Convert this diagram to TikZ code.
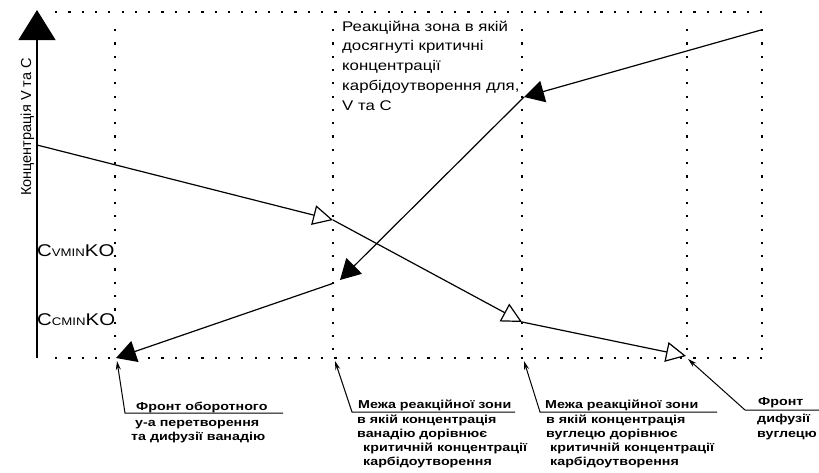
\documentclass[tikz,border=0pt]{standalone}
\usepackage{fontspec}
\setmainfont{Liberation Sans}
\newfontfamily\boxfont{Liberation Sans}[FakeStretch=1.2,WordSpace=1.5]
\newfontfamily\cfont{Liberation Sans}[FakeStretch=1.2]
\newfontfamily\lblfont{Liberation Sans}[FakeStretch=1.24,UprightFont=* Bold]
\usetikzlibrary{arrows.meta}
\begin{document}
\begin{tikzpicture}[x=1pt,y=-1pt,
  dotline/.style={line width=2.2pt,dash pattern=on 2.2pt off 11.1pt},
  prof/.style={line width=1.2pt},
  vtip/.style={-{Triangle[fill=white,length=20pt,width=20pt]}},
  ctip/.style={-{Triangle[length=20pt,width=22pt]}},
  callout/.style={line width=1pt,{Stealth[length=9pt,width=5pt]}-},
  zonetext/.style={font=\boxfont\fontsize{14}{16}\selectfont,anchor=base west,inner sep=0pt},
  lbl/.style={font=\lblfont\fontsize{11.5}{13}\selectfont,anchor=base west,inner sep=0pt},
  clbl/.style={font=\cfont\fontsize{17}{19}\selectfont,anchor=base west,inner sep=0pt},
]
\fill[white] (0,0) rectangle (819,472);
\useasboundingbox (0,0) rectangle (819,472);

% dotted grid
\draw[dotline] (55,12) -- (764,12);
\draw[dotline] (55,358) -- (764,358);
\foreach \gx in {115,333,522,687,762}
  \draw[dotline] (\gx,29) -- (\gx,358);

% concentration axis
\coordinate (o) at (37,358);
\coordinate (ytop) at (37,10);
\draw[line width=1.2pt,-{Triangle[length=30pt,width=37pt]}] (o) -- (ytop);
\node[font=\fontsize{14.5}{16}\selectfont,rotate=90,anchor=base] (ylab) at (31,127) {Концентрація V та C};

% critical levels
\node[clbl] (cv) at (37,256) {C{\fontsize{11}{13}\selectfont VMIN}KO};
\node[clbl] (cc) at (37,325) {C{\fontsize{11}{13}\selectfont CMIN}KO};

% vanadium profile
\coordinate (v0) at (37,145);
\coordinate (v1) at (333,220);
\coordinate (v2) at (522,322);
\coordinate (v3) at (686,356);
\draw[prof,vtip] (v0) -- (v1);
\draw[prof,vtip] (v1) -- (v2);
\draw[prof,vtip] (v2) -- (v3);

% carbon profile
\coordinate (c0) at (761,30);
\coordinate (c1) at (524,97);
\coordinate (c2) at (340,280);
\coordinate (c3) at (334,283);
\coordinate (c4) at (116,358);
\draw[prof,ctip] (c0) -- (c1);
\draw[prof,ctip] (c1) -- (c2);
\draw[prof,ctip] (c3) -- (c4);

% reaction zone caption
\foreach \t [count=\i] in {Реакційна зона в якій,досягнуті критичні,концентрації,{карбідоутворення для,},V та C}
  \node[zonetext] (zone-\i) at (342,{31+19.75*(\i-1)}) {\t};

% callout 1
\coordinate (a1) at (117,361);
\coordinate (k1) at (125,413);
\coordinate (e1) at (283,413);
\draw[callout] (a1) -- (k1) -- (e1);
\node[lbl] (l1a) at (136,410) {Фронт оборотного};
\node[lbl] (l1b) at (135,426) {у-а перетворення};
\node[lbl] (l1c) at (131,440) {та дифузії ванадію};

% callout 2
\coordinate (a2) at (335,361);
\coordinate (k2) at (352,412);
\coordinate (e2) at (515,412);
\draw[callout] (a2) -- (k2) -- (e2);
\node[lbl] (l2a) at (358,408) {Межа реакційної зони};
\node[lbl] (l2b) at (357,423) {в якій концентрація};
\node[lbl] (l2c) at (357,437) {ванадію дорівнює};
\node[lbl] (l2d) at (363,451) {критичній концентрації};
\node[lbl] (l2e) at (363,465) {карбідоутворення};

% callout 3
\coordinate (a3) at (524,361);
\coordinate (k3) at (540,412);
\coordinate (e3) at (717,412);
\draw[callout] (a3) -- (k3) -- (e3);
\node[lbl] (l3a) at (545,408) {Межа реакційної зони};
\node[lbl] (l3b) at (546,423) {в якій концентрація};
\node[lbl] (l3c) at (546,437) {вуглецю дорівнює};
\node[lbl] (l3d) at (550,451) {критичній концентрації};
\node[lbl] (l3e) at (550,465) {карбідоутворення};

% callout 4
\coordinate (a4) at (688,359);
\coordinate (k4) at (745,410);
\coordinate (e4) at (819,410);
\draw[callout] (a4) -- (k4) -- (e4);
\node[lbl] (l4a) at (758,405) {Фронт};
\node[lbl] (l4b) at (757,422) {дифузії};
\node[lbl] (l4c) at (757,437) {вуглецю};
\end{tikzpicture}
\end{document}
